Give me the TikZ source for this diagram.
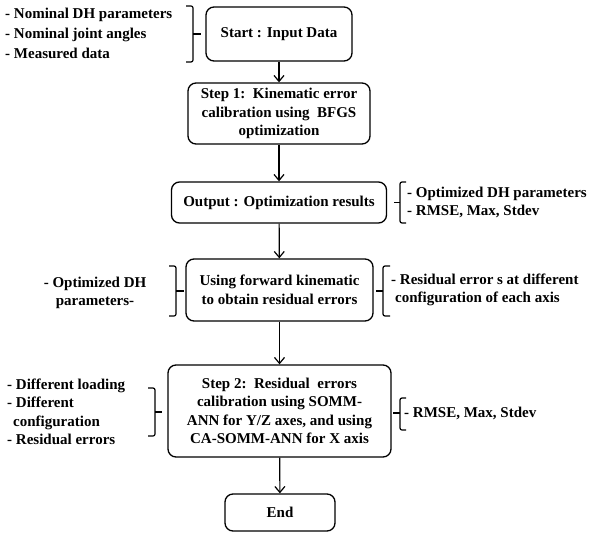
\documentclass[tikz,border=0pt]{standalone}
\usepackage{fontspec}
\setmainfont{Liberation Serif}
\usetikzlibrary{arrows.meta}
\begin{document}
\begin{tikzpicture}[x=1pt,y=-1pt,
  txt/.style={font=\fontsize{15}{18.5}\selectfont\bfseries},
  box/.style={txt, draw, line width=1.3pt, rounded corners=8pt, align=center, inner sep=0pt},
  lbl/.style={txt, align=left, inner sep=0pt, anchor=west},
  flow/.style={line width=1.2pt, -{Straight Barb[length=6pt,width=10pt]}},
  brace/.style={line width=1.2pt, rounded corners=2pt}]
\useasboundingbox (0,0) rectangle (593,532);
% boxes
\node[box, minimum width=146pt, minimum height=54pt] (start) at (279,34) {Start : Input Data};
\node[box, minimum width=182pt, minimum height=61pt] (step1) at (279,113.5) {Step 1:\ \ Kinematic error\\calibration using\ \ BFGS\\optimization};
\node[box, minimum width=215pt, minimum height=41pt] (out) at (279,202.5) {Output : Optimization results};
\node[box, minimum width=187pt, minimum height=62pt] (fwd) at (279.5,290) {Using forward kinematic\\to obtain residual errors};
\node[box, minimum width=223pt, minimum height=92pt] (step2) at (279.5,411) {Step 2:\ \ Residual\ \ errors\\calibration using SOMM-\\ANN for Y/Z axes, and using\\CA-SOMM-ANN for X axis};
\node[box, minimum width=110pt, minimum height=37pt] (end) at (280,512.5) {End};
% connectors
\draw[flow] (start) -- (step1);
\draw[flow] (step1) -- (out);
\draw[flow] (out) -- (fwd);
\draw[flow] (fwd) -- (step2);
\draw[flow] (step2) -- (end);
% side labels
\node[lbl, font=\fontsize{15}{20}\selectfont\bfseries] (startin) at (5,33) {- Nominal DH parameters\\- Nominal joint angles\\- Measured data};
\node[lbl] (outres) at (407,202.5) {- Optimized DH parameters\\- RMSE, Max, Stdev};
\node[txt, align=center, inner sep=0pt] (fwdin) at (95,293) {- Optimized DH\\parameters-};
\node[lbl] (fwdres) at (391,290) {- Residual error s at different\\\hspace*{4pt}configuration of each axis};
\node[lbl] (step2in) at (7,412) {- Different loading\\- Different\\\hspace*{6pt}configuration\\- Residual errors};
\node[lbl] (step2res) at (404,413) {- RMSE, Max, Stdev};
% braces
\draw[brace] (186,6) -- (193,6) -- (193,62) -- (186,62);
\draw[brace] (193,34) -- (201,34);
\draw[brace] (406,182) -- (400,182) -- (400,223) -- (406,223);
\draw[brace] (400,202.5) -- (394,202.5);
\draw[brace] (169,266) -- (176,266) -- (176,316) -- (169,316);
\draw[brace] (176,291) -- (184,291);
\draw[brace] (390,266) -- (383,266) -- (383,316) -- (390,316);
\draw[brace] (383,291) -- (376,291);
\draw[brace] (148,388) -- (155,388) -- (155,436) -- (148,436);
\draw[brace] (155,412) -- (162,412);
\draw[brace] (406,398) -- (400,398) -- (400,430) -- (406,430);
\draw[brace] (400,413) -- (393,413);
\end{tikzpicture}
\end{document}
